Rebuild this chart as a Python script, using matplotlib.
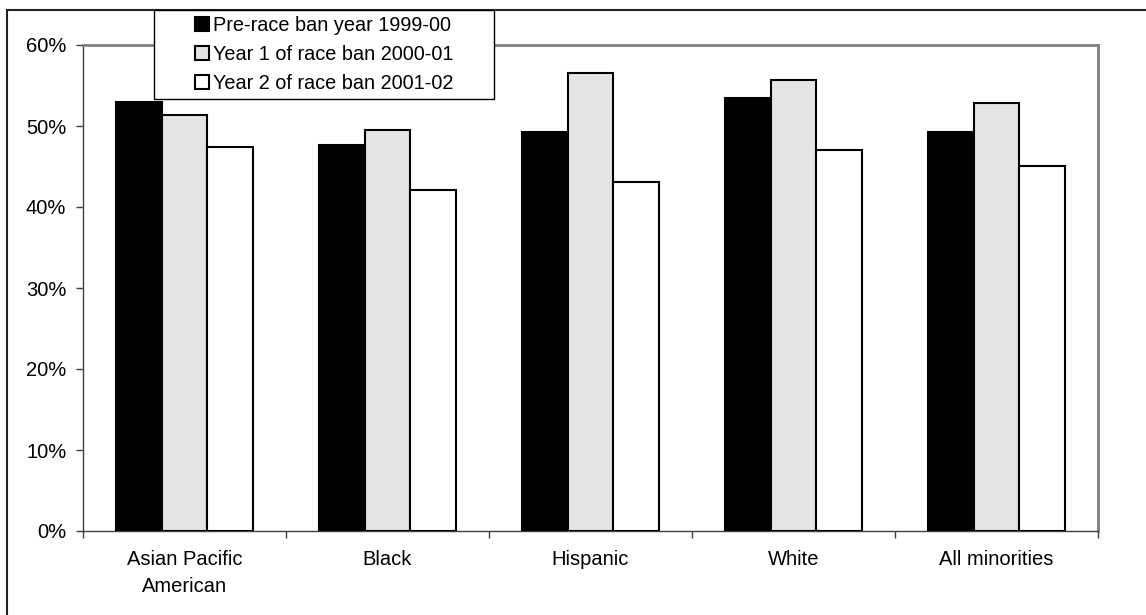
import numpy as np
import matplotlib
matplotlib.use('Agg')
import matplotlib.pyplot as plt
from matplotlib.patches import Rectangle, Patch
from matplotlib.ticker import FuncFormatter, FixedLocator

plt.rcParams['font.family'] = ['Liberation Sans', 'DejaVu Sans']

# data (percent)
groups = ['Asian Pacific\nAmerican', 'Black', 'Hispanic', 'White', 'All minorities']
series = ['Pre-race ban year 1999-00', 'Year 1 of race ban 2000-01', 'Year 2 of race ban 2001-02']
pre_ban = [53.0, 47.6, 49.3, 53.5, 49.2]
year1 = [51.4, 49.5, 56.5, 55.7, 52.9]
year2 = [47.4, 42.1, 43.1, 47.0, 45.1]
colors = ['black', '#e4e4e4', 'white']

W, H = 1146, 615
fig = plt.figure(figsize=(W / 100, H / 100), dpi=100)
ax = fig.add_axes([83 / W, 1 - 531 / H, (1098 - 83) / W, (531 - 45) / H])

x = np.arange(len(groups))
bw = 0.225
for i, vals in enumerate([pre_ban, year1, year2]):
    ax.bar(x + (i - 1) * bw, vals, bw, color=colors[i], edgecolor='black',
           linewidth=1.5, zorder=3)

ax.set_xlim(-0.5, len(groups) - 0.5)
ax.set_ylim(0, 60)
ax.set_yticks(np.arange(0, 61, 10))
ax.yaxis.set_major_formatter(FuncFormatter(lambda v, p: '%d%%' % v))
ax.tick_params(axis='y', length=5, width=1, color='#404040', pad=7, labelsize=14.5)

# category labels at centres, tick marks between categories
ax.set_xticks(x)
ax.set_xticklabels(groups, fontsize=14.5, linespacing=1.5)
ax.tick_params(axis='x', which='major', length=0, pad=14)
ax.xaxis.set_minor_locator(FixedLocator(np.arange(-0.5, len(groups), 1.0)))
ax.tick_params(axis='x', which='minor', length=5, width=1, color='#404040')

for s in ['left', 'bottom']:
    ax.spines[s].set_color('#404040')
    ax.spines[s].set_linewidth(1)
for s in ['top', 'right']:
    ax.spines[s].set_color('#808080')
    ax.spines[s].set_linewidth(2)

# outer chart border (runs off the right and bottom edges)
fig.patches.append(Rectangle((7 / W, -0.05), 1.2, 1.05 - 10 / H, transform=fig.transFigure,
                             fill=False, edgecolor='#222222', linewidth=1.5))

# legend box
fig.patches.append(Rectangle((154 / W, 1 - 99 / H), (494 - 154) / W, (99 - 10) / H,
                             transform=fig.transFigure, facecolor='white',
                             edgecolor='black', linewidth=1, zorder=5))
handles = [Patch(facecolor=c, edgecolor='black', linewidth=1.5) for c in colors]
leg = fig.legend(handles, series, loc='upper left', bbox_to_anchor=(195 / W, 1 - 16 / H),
                 frameon=False, fontsize=14.3, handlelength=0.7, handleheight=0.7,
                 handletextpad=0.2, labelspacing=0.5, borderpad=0, borderaxespad=0)
leg.set_zorder(6)

fig.savefig('out.png', dpi=100)
